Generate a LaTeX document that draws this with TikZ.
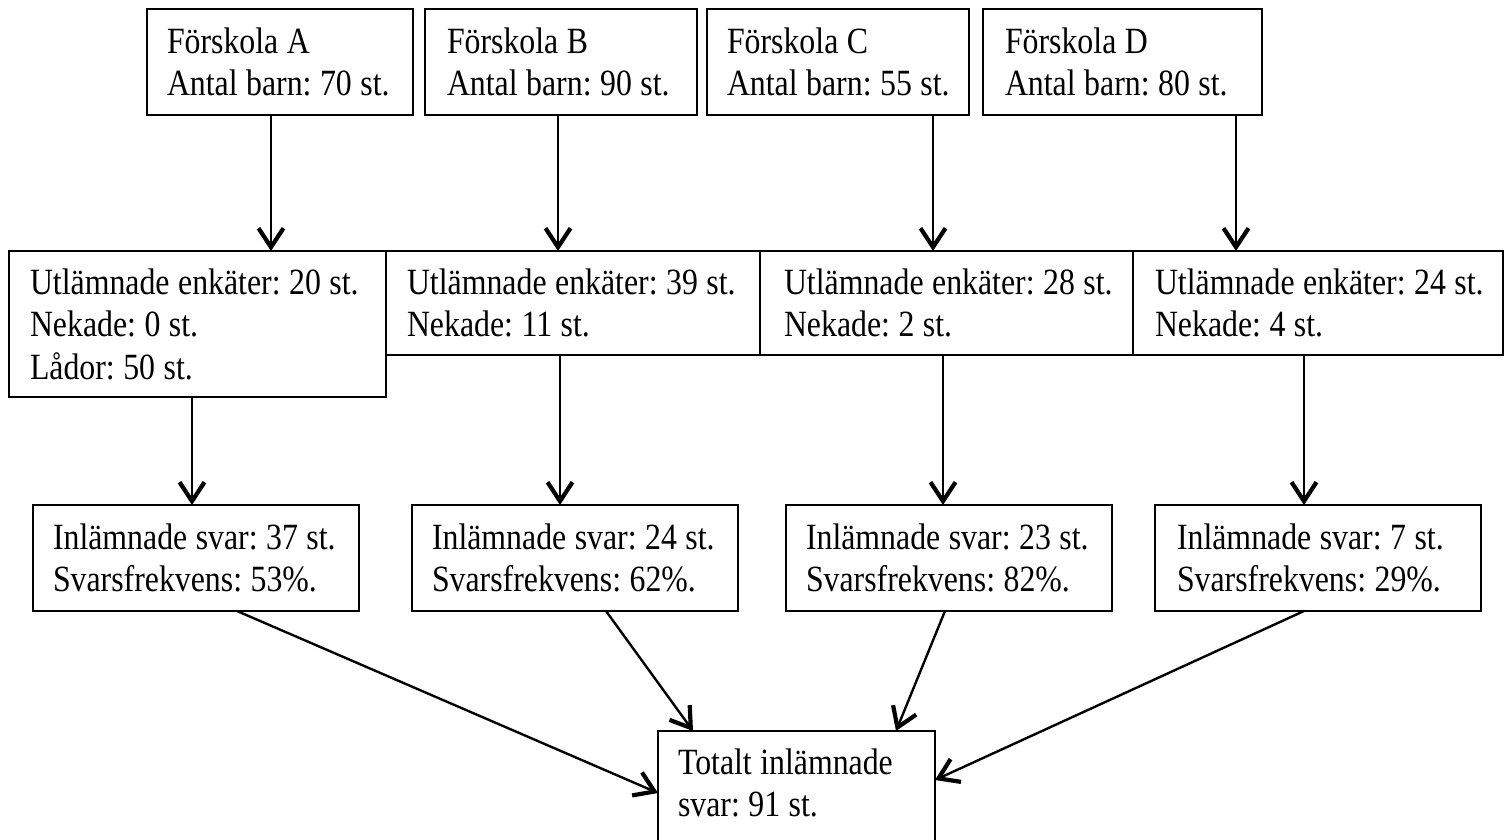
\documentclass[tikz,border=0pt]{standalone}
\usepackage{fontspec}
\setmainfont{Liberation Serif}[FakeStretch=0.86]
\usetikzlibrary{arrows.meta}
\newcommand\tightspace{\frenchspacing\spaceskip=8.5pt\xspaceskip=8.5pt\relax}
\tikzset{
  box/.style={draw, line width=1.3pt, anchor=north west, align=left,
    inner ysep=0pt, outer sep=0pt,
    font=\fontsize{37}{42.5}\selectfont,
    execute at begin node=\tightspace},
  arr/.style={line width=2.4pt, -{Straight Barb[length=19pt, width=25pt, line width=4.2pt]}}
}
\begin{document}
\begin{tikzpicture}[x=1pt, y=-1pt]
\useasboundingbox (0,0) rectangle (1504,840);
\clip (0,0) rectangle (1504,840);
% top row
\node[box, minimum height=106pt, text width=226pt, inner xsep=20pt] (tA) at (147,9) {\mbox{Förskola A}\\\mbox{Antal barn: 70 st.}};
\node[box, minimum height=106pt, text width=228pt, inner xsep=22pt] (tB) at (425,9) {\mbox{Förskola B}\\\mbox{Antal barn: 90 st.}};
\node[box, minimum height=106pt, text width=222pt, inner xsep=20pt] (tC) at (707,9) {\mbox{Förskola C}\\\mbox{Antal barn: 55 st.}};
\node[box, minimum height=106pt, text width=235pt, inner xsep=22pt] (tD) at (983,9) {\mbox{Förskola D}\\\mbox{Antal barn: 80 st.}};
% middle row
\node[box, minimum height=146pt, text width=335pt, inner xsep=21pt] (mA) at (9,251) {\mbox{Utlämnade enkäter: 20 st.}\\\mbox{Nekade: 0 st.}\\\mbox{Lådor: 50 st.}};
\node[box, minimum height=104pt, text width=332pt, inner xsep=21pt] (mB) at (386,251) {\mbox{Utlämnade enkäter: 39 st.}\\\mbox{Nekade: 11 st.}};
\node[box, minimum height=104pt, text width=325pt, inner xsep=24pt] (mC) at (760,251) {\mbox{Utlämnade enkäter: 28 st.}\\\mbox{Nekade: 2 st.}};
\node[box, minimum height=104pt, text width=326pt, inner xsep=22pt] (mD) at (1133,251) {\mbox{Utlämnade enkäter: 24 st.}\\\mbox{Nekade: 4 st.}};
% bottom row
\node[box, minimum height=106pt, text width=286pt, inner xsep=20pt] (bA) at (33,505) {\mbox{Inlämnade svar: 37 st.}\\\mbox{Svarsfrekvens: 53\%.}};
\node[box, minimum height=106pt, text width=286pt, inner xsep=20pt] (bB) at (412,505) {\mbox{Inlämnade svar: 24 st.}\\\mbox{Svarsfrekvens: 62\%.}};
\node[box, minimum height=106pt, text width=286pt, inner xsep=20pt] (bC) at (786,505) {\mbox{Inlämnade svar: 23 st.}\\\mbox{Svarsfrekvens: 82\%.}};
\node[box, minimum height=106pt, text width=282pt, inner xsep=22pt] (bD) at (1155,505) {\mbox{Inlämnade svar: 7 st.}\\\mbox{Svarsfrekvens: 29\%.}};
% total
\node[box, minimum height=110pt, text width=237pt, inner xsep=20pt] (tot) at (658,731) {\mbox{Totalt inlämnade}\\\mbox{svar: 91 st.}\rule[-7pt]{0pt}{7pt}};
% x positions
\coordinate (x1) at (271,0);
\coordinate (x2) at (558,0);
\coordinate (x3) at (933,0);
\coordinate (x4) at (1236,0);
\coordinate (y1) at (192,0);
\coordinate (y2) at (560,0);
\coordinate (y3) at (943,0);
\coordinate (y4) at (1304,0);
\coordinate (sA) at (237,0);
\coordinate (sB) at (606,0);
\coordinate (sC) at (945,0);
\coordinate (sD) at (1304,0);
\coordinate (eB) at (693,0);
\coordinate (eC) at (896,0);
\coordinate (eA) at (0,793);
\coordinate (eD) at (0,780);
% connectors
\draw[arr] (tA.south -| x1) -- (mA.north -| x1);
\draw[arr] (tB.south -| x2) -- (mB.north -| x2);
\draw[arr] (tC.south -| x3) -- (mC.north -| x3);
\draw[arr] (tD.south -| x4) -- (mD.north -| x4);
\draw[arr] (mA.south -| y1) -- (bA.north -| y1);
\draw[arr] (mB.south -| y2) -- (bB.north -| y2);
\draw[arr] (mC.south -| y3) -- (bC.north -| y3);
\draw[arr] (mD.south -| y4) -- (bD.north -| y4);
\draw[arr] (bA.south -| sA) -- (tot.west |- eA);
\draw[arr] (bB.south -| sB) -- (tot.north -| eB);
\draw[arr] (bC.south -| sC) -- (tot.north -| eC);
\draw[arr] (bD.south -| sD) -- (tot.east |- eD);
\end{tikzpicture}
\end{document}
